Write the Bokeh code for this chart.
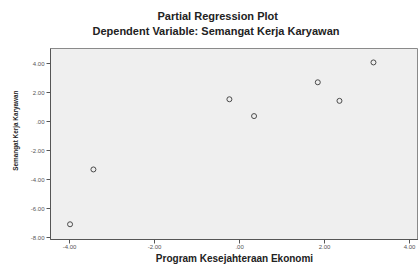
from bokeh.plotting import figure
from bokeh.models import FixedTicker, Title
from bokeh.embed import file_html
from bokeh.resources import INLINE

title_text = "Partial Regression Plot"
subtitle_text = "Dependent Variable: Semangat Kerja Karyawan"
x_label = "Program Kesejahteraan Ekonomi"
y_label = "Semangat Kerja Karyawan"

program_x = [-3.99, -3.44, -0.24, 0.34, 1.84, 2.35, 3.15]
semangat_y = [-7.07, -3.29, 1.55, 0.39, 2.72, 1.44, 4.09]

x_ticks = [-4, -2, 0, 2, 4]
x_tick_labels = ["-4.00", "-2.00", ".00", "2.00", "4.00"]
y_ticks = [4, 2, 0, -2, -4, -6, -8]
y_tick_labels = ["4.00", "2.00", ".00", "-2.00", "-4.00", "-6.00", "-8.00"]

FONT = "Liberation Sans"

p = figure(width=418, height=266, output_backend="svg", toolbar_location=None,
           x_range=(-4.45, 4.21), y_range=(-8.12, 5.05),
           min_border_left=50, min_border_right=0, min_border_top=48, min_border_bottom=26)
p.background_fill_color = "#efefef"
p.border_fill_color = "white"
p.outline_line_color = "#8a8a8a"
p.outline_line_width = 1
p.xgrid.visible = False
p.ygrid.visible = False

for ax, ticks, labels in ((p.xaxis, x_ticks, x_tick_labels), (p.yaxis, y_ticks, y_tick_labels)):
    ax.ticker = FixedTicker(ticks=ticks)
    ax.major_label_overrides = {t: l for t, l in zip(ticks, labels)}
    ax.minor_tick_line_color = None
    ax.major_tick_out = 4
    ax.major_tick_in = 0
    ax.axis_line_color = "#555555"
    ax.major_tick_line_color = "#555555"
    ax.major_label_text_font = FONT
    ax.major_label_text_font_size = "6px"
    ax.major_label_text_color = "#555555"
    ax.major_label_standoff = 2

p.xaxis.major_label_standoff = 1
p.xaxis.axis_label = x_label
p.xaxis.axis_label_text_font = FONT
p.xaxis.axis_label_text_font_size = "10px"
p.xaxis.axis_label_text_font_style = "bold"
p.xaxis.axis_label_text_color = "#222222"
p.xaxis.axis_label_standoff = 1

p.scatter(program_x, semangat_y, marker="circle", size=5, fill_color=None,
          line_color="#4a4a4a", line_width=1)

# main title uses the built-in title slot (outermost)
p.title.text = title_text
p.title.align = "left"
p.title.offset = 107
p.title.standoff = -22
p.title.text_font = FONT
p.title.text_font_size = "11px"
p.title.text_font_style = "bold"
p.title.text_color = "#222222"

p.add_layout(Title(text=subtitle_text, align="left", offset=42, standoff=24,
                   text_font=FONT, text_font_size="11px", text_font_style="bold",
                   text_color="#222222"), "above")
p.add_layout(Title(text=y_label, align="right", offset=42, standoff=17,
                   text_font=FONT, text_font_size="6.4px", text_font_style="bold",
                   text_color="#222222"), "left")

open("out.html", "w").write(file_html(p, INLINE))
